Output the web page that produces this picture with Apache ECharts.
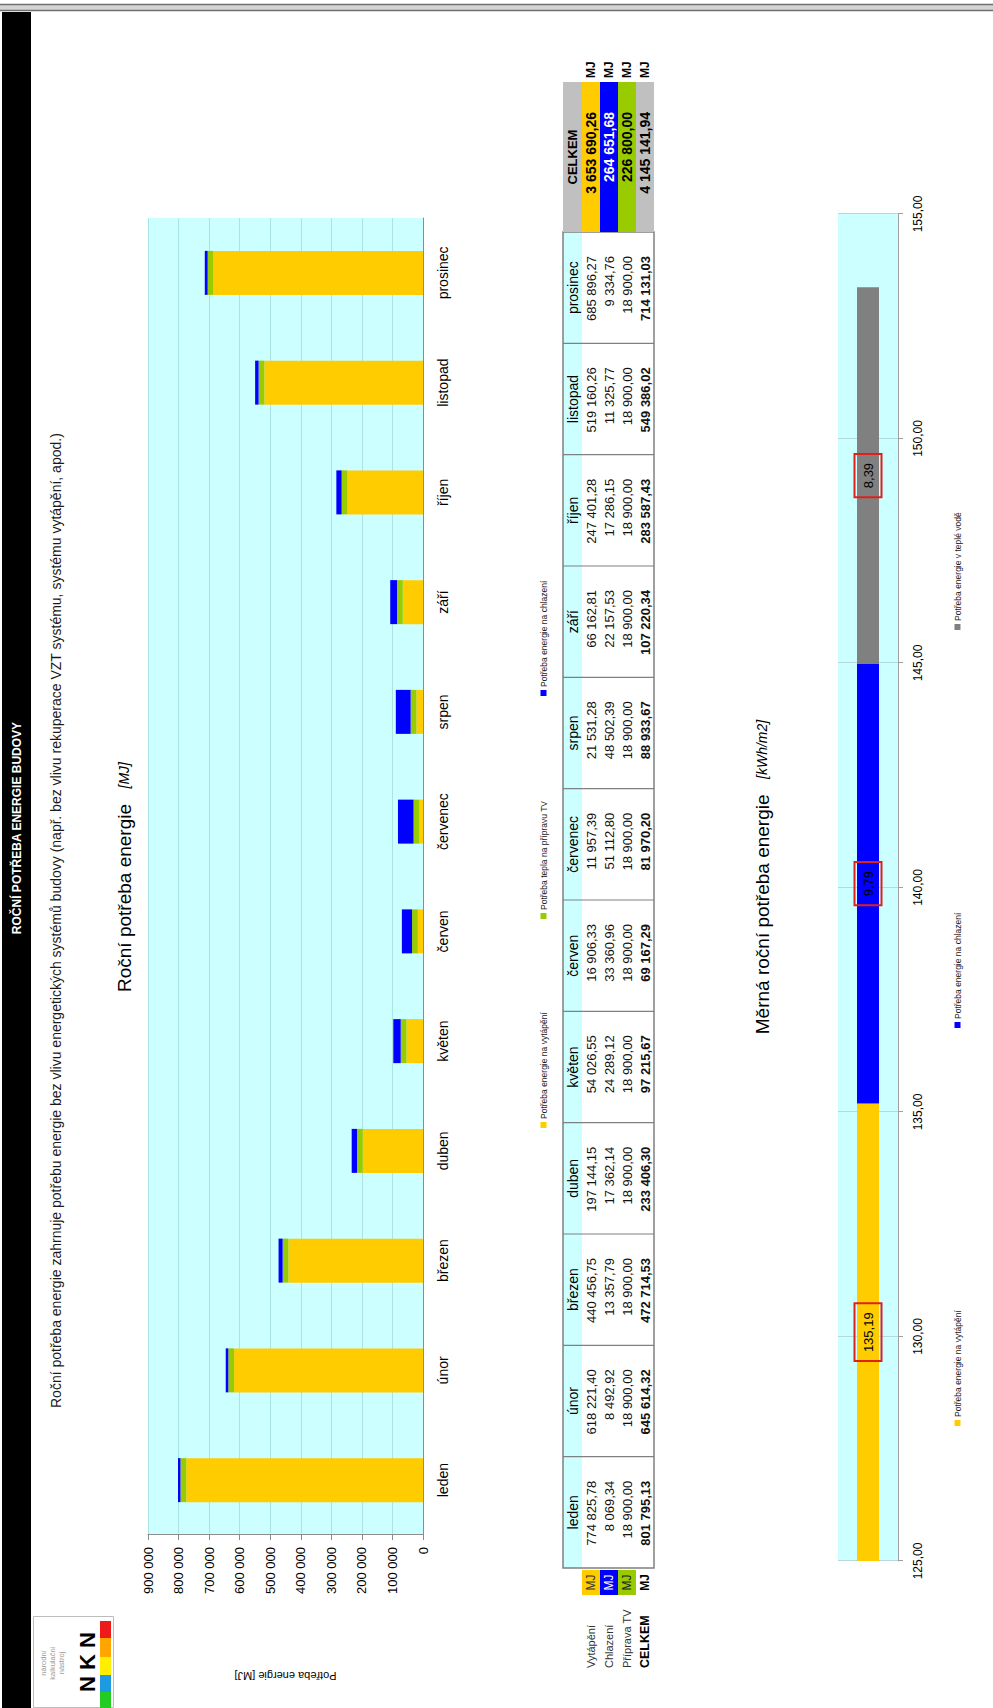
<!DOCTYPE html>
<html><head><meta charset="utf-8">
<script src="https://cdn.jsdelivr.net/npm/echarts@6/dist/echarts.min.js"></script>
<style>
html,body{margin:0;padding:0;background:#fff;overflow:hidden;width:993px;height:1708px}
#rot{position:absolute;left:0;top:0;width:1708px;height:993px;transform-origin:0 0;transform:translate(0,1708px) rotate(-90deg)}
#chart{width:1708px;height:993px}
</style></head><body>
<div id="rot"><div id="chart"></div></div>
<script>
// ---------- DATA ----------
const months = ['leden','únor','březen','duben','květen','červen','červenec','srpen','září','říjen','listopad','prosinec'];
const heating = [774825.78, 618221.40, 440456.75, 197144.15, 54026.55, 16906.33, 11957.39, 21531.28, 66162.81, 247401.28, 519160.26, 685896.27];
const cooling = [8069.34, 8492.92, 13357.79, 17362.14, 24289.12, 33360.96, 51112.80, 48502.39, 22157.53, 17286.15, 11325.77, 9334.76];
const hotWater = [18900, 18900, 18900, 18900, 18900, 18900, 18900, 18900, 18900, 18900, 18900, 18900];
const monthTotals = [801795.13, 645614.32, 472714.53, 233406.30, 97215.67, 69167.29, 81970.20, 88933.67, 107220.34, 283587.43, 549386.02, 714131.03];
const yearTotals = [3653690.26, 264651.68, 226800.00, 4145141.94];
const rowNames = ['Vytápění', 'Chlazení', 'Příprava TV', 'CELKEM'];
const seriesNames1 = ['Potřeba energie na vytápění', 'Potřeba tepla na přípravu TV', 'Potřeba energie na chlazení'];
const specNames = ['Potřeba energie na vytápění', 'Potřeba energie na chlazení', 'Potřeba energie v teplé vodě'];
const specValues = [135.19, 9.79, 8.39];

// ---------- HELPERS ----------
const FF = '"Liberation Sans", Arial, Helvetica, sans-serif';
const C = { yellow:'#FFCC00', green:'#99CC00', blue:'#0000FF', gray:'#808080', cyan:'#CCFFFF', cell:'#C0C0C0' };
function fmt(v){ const s = v.toFixed(2).split('.'); return s[0].replace(/\B(?=(\d{3})+(?!\d))/g,' ') + ',' + s[1]; }
function fmtInt(v){ return String(Math.round(v)).replace(/\B(?=(\d{3})+(?!\d))/g,' '); }
function T(x, y, text, size, o){
  o = o || {};
  return { type:'text', x:x, y:y, silent:true, z:20, style:{ text:text, fill:o.color||'#000',
    font:(o.italic?'italic ':'') + (o.bold?'bold ':'') + size + 'px ' + FF,
    textAlign:o.align||'left', align:o.align||'left', textVerticalAlign:'middle', verticalAlign:'middle' } };
}
function R(x, y, w, h, fill, stroke, lw){
  return { type:'rect', silent:true, z:15, shape:{x:x,y:y,width:w,height:h}, style:{fill:fill||'none', stroke:stroke||null, lineWidth:lw||0} };
}
function L(x1, y1, x2, y2, color, lw){
  return { type:'line', silent:true, z:16, shape:{x1:x1,y1:y1,x2:x2,y2:y2}, style:{stroke:color, lineWidth:lw||1} };
}

const els = [];
// page frame: gray double line (right) and black title band (top)
els.push(R(1697, 0, 7, 993, '#d4d4d4'));
els.push(L(1697.5, 0, 1697.5, 993, '#6f6f6f', 1.5));
els.push(L(1703.5, 0, 1703.5, 993, '#6f6f6f', 1.5));
els.push(R(0, 2, 1696, 29, '#000'));
els.push(T(880, 17, 'ROČNÍ POTŘEBA ENERGIE BUDOVY', 12, {bold:true, color:'#fff', align:'center'}));
els.push(T(300, 56, 'Roční potřeba energie zahrnuje potřebu energie bez vlivu energetických systémů budovy (např. bez vlivu rekuperace VZT systému, systému vytápění, apod.)', 14, {color:'#1a1a1a'}));

// chart titles
function richTitle(x, y, main, unit){
  return { type:'text', x:x, y:y, silent:true, z:20, style:{
    text:'{a|' + main + '}    {b|' + unit + '}', textAlign:'center', align:'center', textVerticalAlign:'middle', verticalAlign:'middle',
    font:'14px ' + FF, fill:'#000',
    rich:{ a:{fontSize:19, fontFamily:FF, fill:'#000', color:'#000'}, b:{fontSize:14, fontStyle:'italic', fontFamily:FF, fill:'#000', color:'#000'} } } };
}
els.push(richTitle(831, 124, 'Roční potřeba energie', '[MJ]'));
els.push(richTitle(831, 762, 'Měrná roční potřeba energie', '[kWh/m2]'));

// logo
els.push(R(0.5, 33.5, 91, 80, '#fff', '#bdbdbd', 1));
['národní','kalkulační','nástroj'].forEach(function(s, i){ els.push(T(45, 43 + i*9, s, 7.5, {color:'#9a9a9a', align:'center'})); });
els.push(T(46, 87, 'N K N', 22, {bold:true, align:'center'}));
[['#22CC22',0,16],['#1E9BE0',16,17],['#FFEE00',33,18],['#FFA500',51,19],['#EE1B1B',70,17]].forEach(function(c){ els.push(R(c[1], 100, c[2], 11, c[0])); });

// monthly table
const tX = 140, tR = 1476, colW = (tR - tX) / 12;
const rowY = [572.5, 591, 609, 627, 645];
els.push(R(tX, 563, tR - tX, 19, C.cyan));
const tableRows = [heating, cooling, hotWater, monthTotals];
months.forEach(function(m, i){
  const x0 = tX + i * colW;
  els.push(T(x0 + colW/2, rowY[0], m, 14, {align:'center'}));
  tableRows.forEach(function(arr, r){
    els.push(T(x0 + colW - 24, rowY[r+1], fmt(arr[i]), 13, {align:'right', bold:r===3, color:'#111'}));
  });
  if (i > 0) els.push(L(x0, 563, x0, 654, '#808080', 1.2));
});
els.push(R(tX, 563, tR - tX, 91, 'none', '#808080', 1.5));

// row units and names
const unitFill = [C.yellow, C.blue, C.green];
const unitText = ['#333', '#fff', '#222'];
for (let r = 0; r < 3; r++) {
  els.push(R(113, 582 + r*18, 25, 18, unitFill[r]));
  els.push(T(125.5, rowY[r+1], 'MJ', 12, {align:'center', color:unitText[r]}));
}
els.push(T(125.5, rowY[4], 'MJ', 12, {align:'center', bold:true}));
rowNames.forEach(function(n, r){
  els.push(T(40, rowY[r+1], n, r === 3 ? 12.5 : 11, {bold:r===3, color:r===3 ? '#000' : '#333'}));
});

// yearly totals block
els.push(R(tR, 563, 150, 91, C.cell));
els.push(R(tR, 582, 150, 18, C.yellow));
els.push(R(tR, 600, 150, 18, C.blue));
els.push(R(tR, 618, 150, 18, C.green));
els.push(T(tR + 75, rowY[0], 'CELKEM', 13, {bold:true, align:'center'}));
const totColors = ['#000', '#fff', '#000', '#000'];
yearTotals.forEach(function(v, r){
  els.push(T(1596, rowY[r+1], fmt(v), 14, {bold:true, align:'right', color:totColors[r]}));
  els.push(T(1630, rowY[r+1], 'MJ', 12, {bold:true}));
});

// ---------- CHART ----------
const chart = echarts.init(document.getElementById('chart'), null, {renderer:'svg', width:1708, height:993});
const barColors1 = [C.yellow, C.green, C.blue];
const data1 = [heating, hotWater, cooling];
const specColors = [C.yellow, C.blue, C.gray];

const legendPos1 = [580, 789, 1012];
const legendPos2 = [282, 680, 1078];
const legends = [];
seriesNames1.forEach(function(n, i){
  legends.push({ data:[n], left:legendPos1[i], top:539, icon:'rect', itemWidth:6, itemHeight:6, itemGap:0, padding:0, selectedMode:false,
    textStyle:{fontSize:8.5, color:'#222', fontFamily:FF, padding:[0,0,0,-2]} });
});
specNames.forEach(function(n, i){
  legends.push({ data:[n], left:legendPos2[i], top:953, icon:'rect', itemWidth:6, itemHeight:6, itemGap:0, padding:0, selectedMode:false,
    textStyle:{fontSize:8.5, color:'#222', fontFamily:FF, padding:[0,0,0,-2]} });
});

const series = [];
seriesNames1.forEach(function(n, i){
  series.push({ name:n, type:'bar', stack:'month', xAxisIndex:0, yAxisIndex:0, barWidth:44,
    itemStyle:{color:barColors1[i]}, data:data1[i] });
});
specNames.forEach(function(n, i){
  series.push({ name:n, type:'bar', stack:'spec', xAxisIndex:1, yAxisIndex:1, barWidth:22,
    itemStyle:{color:specColors[i]}, data:[specValues[i]],
    label:{ show:true, position:'inside', color:'#000', fontSize:13, fontFamily:FF,
      borderColor:'#E0201B', borderWidth:2, padding:[7,9],
      formatter:function(p){ return p.value.toFixed(2).replace('.', ','); } } });
});

chart.setOption({
  animation:false,
  backgroundColor:'#fff',
  textStyle:{fontFamily:FF},
  grid:[
    {left:173, top:148, width:1317, height:275, show:true, backgroundColor:C.cyan, borderWidth:0},
    {left:147, top:838, width:1347, height:60, show:true, backgroundColor:C.cyan, borderWidth:0}
  ],
  legend:legends,
  xAxis:[
    {type:'category', gridIndex:0, data:months,
      axisLine:{lineStyle:{color:'#8c8c8c'}}, axisTick:{length:5, lineStyle:{color:'#8c8c8c'}},
      axisLabel:{color:'#000', fontSize:14, margin:13, fontFamily:FF}},
    {type:'value', gridIndex:1, min:125, max:155, interval:5,
      axisLine:{show:true, lineStyle:{color:'#a0a0a0'}}, axisTick:{show:true, length:5, lineStyle:{color:'#a0a0a0'}},
      axisLabel:{color:'#000', fontSize:12, margin:14, fontFamily:FF, formatter:function(v){ return v.toFixed(2).replace('.', ','); }},
      splitLine:{show:true, lineStyle:{color:'#B6DADA'}}}
  ],
  yAxis:[
    {type:'value', gridIndex:0, min:0, max:900000, interval:100000,
      name:'Potřeba energie [MJ]', nameLocation:'middle', nameGap:135, nameRotate:90,
      nameTextStyle:{fontSize:11, color:'#000', fontFamily:FF},
      axisLine:{show:true, lineStyle:{color:'#8c8c8c'}}, axisTick:{show:true, length:5, lineStyle:{color:'#8c8c8c'}},
      axisLabel:{color:'#000', fontSize:13, margin:12, fontFamily:FF, formatter:function(v){ return fmtInt(v); }},
      splitLine:{show:true, lineStyle:{color:'#A9E3E3'}}},
    {type:'category', gridIndex:1, data:['m'], show:false}
  ],
  series:series,
  graphic:{elements:els}
});
</script>
</body></html>
